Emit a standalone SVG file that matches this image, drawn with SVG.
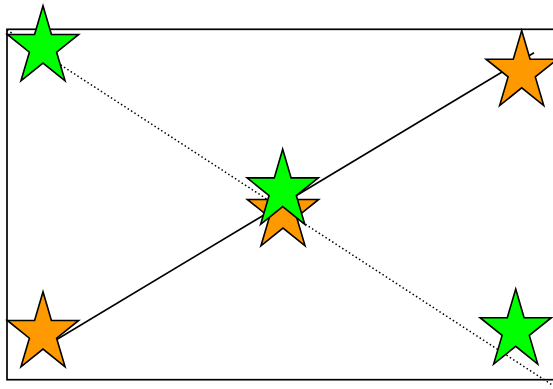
<svg xmlns="http://www.w3.org/2000/svg" xmlns:xlink="http://www.w3.org/1999/xlink" width="553" height="389" viewBox="0 0 553 389">
  <style>
    .star { stroke: #000; stroke-width: 1.6; stroke-linejoin: miter; }
    .green { fill: #00ff00; }
    .orange { fill: #ff9900; }
    .frame { fill: #fff; stroke: #000; stroke-width: 1.7; }
    .solid { stroke: #000; stroke-width: 1.6; fill: none; }
    .dotted { stroke: #000; stroke-width: 1.5; fill: none; stroke-dasharray: 1.5 2.5; }
  </style>
  <defs>
    <polygon id="star" points="0,-41.5 8.42,-12.82 35.66,-12.82 13.61,4.9 22.05,33.57 0,15.85 -22.05,33.57 -13.61,4.9 -35.66,-12.82 -8.42,-12.82"/>
  </defs>
  <rect width="553" height="389" fill="#fff"/>
  <g id="frame">
    <rect class="frame" x="7" y="29.3" width="560" height="350.4"/>
  </g>
  <g id="connectors">
    <line class="dotted" x1="7" y1="30" x2="560" y2="390"/>
    <line class="solid" x1="43" y1="347.7" x2="534" y2="52.8"/>
  </g>
  <g id="star-top-left"><use xlink:href="#star" href="#star" class="star green" transform="translate(43,47.3)"/></g>
  <g id="star-top-right"><use xlink:href="#star" href="#star" class="star orange" transform="translate(521.7,72)"/></g>
  <g id="star-center-orange"><use xlink:href="#star" href="#star" class="star orange" transform="translate(283,212.3)"/></g>
  <g id="star-center-green"><use xlink:href="#star" href="#star" class="star green" transform="translate(282.7,190.7)"/></g>
  <g id="star-bottom-left"><use xlink:href="#star" href="#star" class="star orange" transform="translate(43,333.3)"/></g>
  <g id="star-bottom-right"><use xlink:href="#star" href="#star" class="star green" transform="translate(515.7,330.5)"/></g>
</svg>
